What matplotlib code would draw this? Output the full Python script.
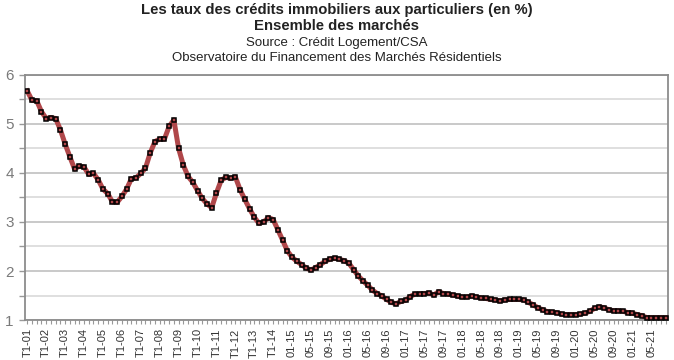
import numpy as np
import matplotlib
matplotlib.use("Agg")
import matplotlib.pyplot as plt
from matplotlib.ticker import MultipleLocator

plt.rcParams['font.family'] = ['Liberation Sans', 'DejaVu Sans']

# Quarterly rates, Q1 2001 -> Q4 2014
rates_quarterly = [
    5.67, 5.48, 5.47, 5.25, 5.11, 5.13, 5.11, 4.88, 4.59, 4.33,
    4.08, 4.14, 4.12, 3.97, 3.99, 3.86, 3.67, 3.58, 3.41, 3.40,
    3.52, 3.67, 3.88, 3.90, 3.99, 4.10, 4.41, 4.64, 4.69, 4.69,
    4.95, 5.08, 4.50, 4.16, 3.93, 3.81, 3.64, 3.48, 3.37, 3.29,
    3.59, 3.85, 3.91, 3.89, 3.92, 3.66, 3.46, 3.27, 3.10, 2.97,
    3.00, 3.09, 3.05, 2.84, 2.63, 2.41,
]

# Monthly rates, Jan 2015 -> Aug 2021
rates_monthly = [
    2.28, 2.20, 2.13, 2.06, 2.02, 2.07, 2.13, 2.20, 2.24, 2.26,
    2.24, 2.21, 2.16, 2.03, 1.90, 1.80, 1.71, 1.61, 1.54, 1.49,
    1.42, 1.36, 1.33, 1.38, 1.40, 1.48, 1.53, 1.535, 1.54, 1.55,
    1.51, 1.58, 1.54, 1.53, 1.51, 1.49, 1.47, 1.47, 1.49, 1.47,
    1.45, 1.44, 1.42, 1.41, 1.39, 1.41, 1.42, 1.42, 1.42, 1.41,
    1.36, 1.31, 1.25, 1.21, 1.17, 1.16, 1.15, 1.12, 1.11, 1.11,
    1.11, 1.12, 1.14, 1.18, 1.24, 1.27, 1.25, 1.21, 1.19, 1.19,
    1.18, 1.15, 1.14, 1.11, 1.09, 1.05, 1.05, 1.05, 1.05, 1.05,
]

# One label every 4 points
tick_labels = [
    "T1-01", "T1-02", "T1-03", "T1-04", "T1-05", "T1-06", "T1-07",
    "T1-08", "T1-09", "T1-10", "T1-11", "T1-12", "T1-13", "T1-14",
    "01-15", "05-15", "09-15", "01-16", "05-16", "09-16", "01-17",
    "05-17", "09-17", "01-18", "05-18", "09-18", "01-19", "05-19",
    "09-19", "01-20", "05-20", "09-20", "01-21", "05-21",
]

rates = np.array(rates_quarterly + rates_monthly)
x = np.arange(len(rates))

fig = plt.figure(figsize=(6.74, 3.6), dpi=100)
ax = fig.add_axes([0.037, 0.111, 0.954, 0.681])

ax.plot(x, rates, color="#b0474a", linewidth=3.6, zorder=3,
        marker="s", markersize=3.2, markeredgecolor="black",
        markeredgewidth=1.1, markerfacecolor="#b0474a")

ax.set_xlim(-0.5, len(rates) - 0.5)
ax.set_ylim(1, 6)
ax.yaxis.set_major_locator(MultipleLocator(1))
ax.yaxis.set_minor_locator(MultipleLocator(0.5))
ax.grid(which="major", axis="y", color="#c0c0c0", linewidth=1.2)
ax.grid(which="minor", axis="y", color="#d9d9d9", linewidth=1.2)
ax.set_axisbelow(True)

ax.set_xticks(x[::4])
ax.set_xticklabels(tick_labels, rotation=90, fontsize=8, color="#333333")
ax.set_xticks(x, minor=True)
ax.tick_params(axis="x", which="both", length=3, width=0.8, color="#999999", pad=3)
ax.tick_params(axis="y", which="both", length=4, width=1, color="#999999",
               labelsize=11, labelcolor="#7a7a7a", pad=4)

for side in ["left", "bottom", "top", "right"]:
    ax.spines[side].set_color("#8c8c8c")
    ax.spines[side].set_linewidth(1.3)

fig.text(0.5, 0.972, "Les taux des crédits immobiliers aux particuliers (en %)",
         ha="center", va="center", fontsize=10.7, fontweight="bold", color="#222222")
fig.text(0.5, 0.927, "Ensemble des marchés",
         ha="center", va="center", fontsize=10.7, fontweight="bold", color="#222222")
fig.text(0.5, 0.881, "Source : Crédit Logement/CSA",
         ha="center", va="center", fontsize=9.5, color="#222222")
fig.text(0.5, 0.840, "Observatoire du Financement des Marchés Résidentiels",
         ha="center", va="center", fontsize=9.5, color="#222222")

fig.savefig("out.png", dpi=100)
